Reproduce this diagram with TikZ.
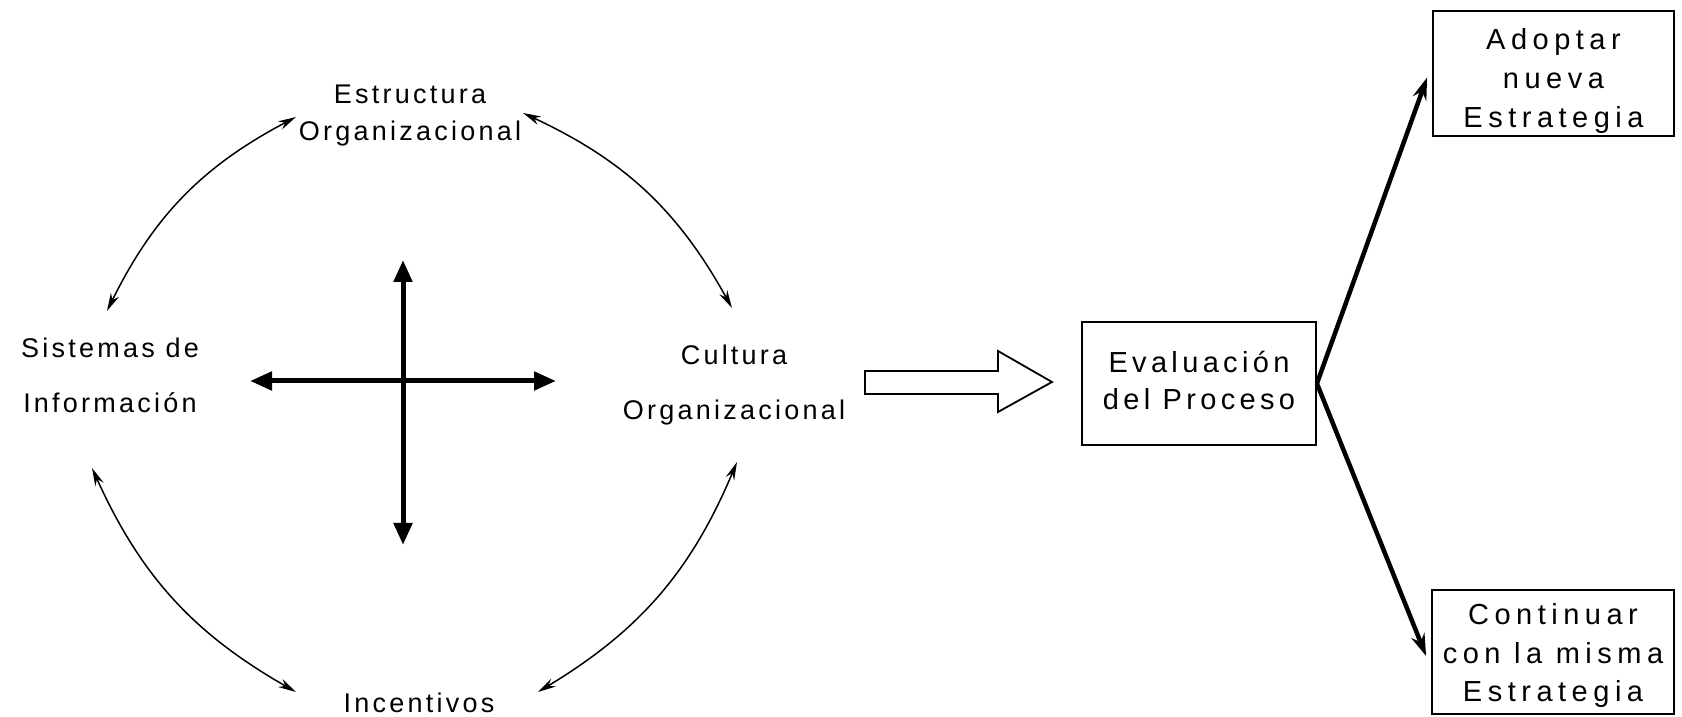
\documentclass[tikz,border=0pt]{standalone}
\usepackage{fontspec}
\setmainfont{Liberation Sans}
\newfontfamily\lblfont[LetterSpace=12]{Liberation Sans}
\newfontfamily\boxfont[LetterSpace=19]{Liberation Sans}
\newfontfamily\evalfont[LetterSpace=15]{Liberation Sans}
\usetikzlibrary{arrows.meta}
\begin{document}
\begin{tikzpicture}[x=1pt,y=1pt,
  lbl/.style={align=center,inner sep=0pt,font=\lblfont\fontsize{27}{55}\selectfont},
  stbox/.style={draw,line width=1.8pt,inner sep=0pt,minimum width=241pt,minimum height=125pt,align=center},
  arc/.style={line width=1.5pt,{Stealth[length=18pt,width=9pt]}-{Stealth[length=18pt,width=9pt]}},
  crossarr/.style={line width=5pt,{Triangle[length=22pt,width=18pt]}-{Triangle[length=22pt,width=18pt]}},
  brarr/.style={line width=4.5pt,-{Stealth[length=22pt,width=14pt]}},
  hollow/.style={line width=1.8pt,line join=miter}
]
\path[fill=white,use as bounding box] (0,0) rectangle (1682,717);

% labels
\node[lbl,font=\lblfont\fontsize{27}{37}\selectfont] (estr) at (410,601) {Estructura\\Organizacional};
\node[lbl] (sist) at (110,342) {Sistemas de\\Información};
\node[lbl] (cult) at (734,332) {Cultura\\Organizacional};
\node[lbl,anchor=base] (inc) at (419,4) {Incentivos};

% cross
\coordinate (ct) at (403,457);
\coordinate (cb) at (403,172);
\coordinate (cl) at (250,336);
\coordinate (cr) at (556,336);
\draw[crossarr] (cl) -- (cr);
\draw[crossarr] (ct) -- (cb);

% arcs
\coordinate (a1) at (107,406);
\coordinate (a2) at (296,600);
\coordinate (b1) at (523,604);
\coordinate (b2) at (732,409);
\coordinate (c1) at (92,249);
\coordinate (c2) at (296,25);
\coordinate (d1) at (737,255);
\coordinate (d2) at (538,25);
\draw[arc] (a1) to[bend left=18] (a2);
\draw[arc] (b1) to[bend left=18] (b2);
\draw[arc] (c1) to[bend right=18] (c2);
\draw[arc] (d1) to[bend left=18] (d2);

% boxes
\node[stbox,minimum width=234pt,minimum height=123pt,font=\evalfont\fontsize{29}{37}\selectfont] (eval) at (1199,333.5) {Evaluación\\del Proceso\rule[-5.5pt]{0pt}{5.5pt}};
\node[stbox,font=\boxfont\fontsize{29}{39}\selectfont] (adopt) at (1553.5,643.5) {\rule{0pt}{37pt}Adoptar\\nueva\\Estrategia};
\node[stbox,minimum width=242pt,minimum height=124pt,font=\boxfont\fontsize{29}{38.5}\selectfont] (cont) at (1553,65) {\rule{0pt}{29pt}Continuar\\con la misma\\Estrategia};

% hollow arrow
\draw[hollow] (865,346) -- (998,346) -- (998,366) -- (1052,335) -- (998,305) -- (998,323) -- (865,323) -- cycle;

% branches
\draw[brarr] (eval.east) -- ([xshift=-5pt,yshift=-4pt]adopt.west);
\draw[brarr] (eval.east) -- ([xshift=-5pt,yshift=-4pt]cont.west);
\end{tikzpicture}
\end{document}
